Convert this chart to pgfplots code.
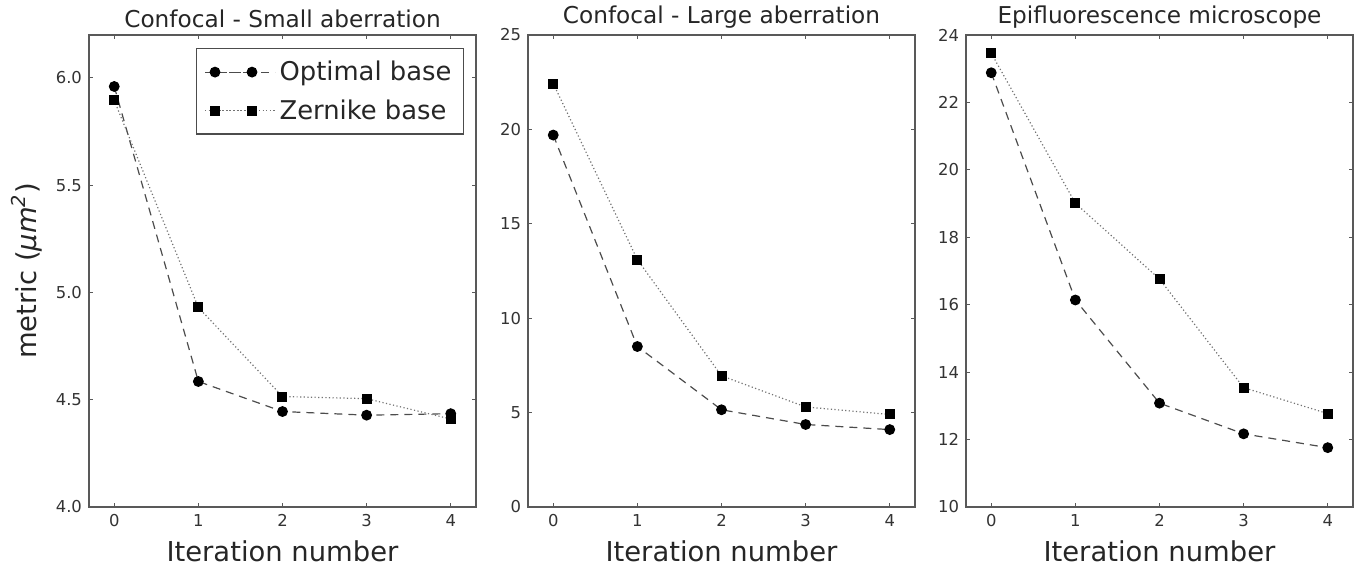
\documentclass[border=0pt]{standalone}
\usepackage{fontspec}
\setmainfont{DejaVu Sans}
\usepackage{pgfplots}
\pgfplotsset{compat=1.18}

\pgfplotsset{
  panel/.style={
    scale only axis, width=193.5pt, height=236pt,
    xmin=-0.3, xmax=4.3, xtick={0,1,2,3,4},
    tick align=inside, xtick pos=both, ytick pos=both,
    major tick length=2.2pt,
    axis line style={black!65, line width=0.8pt},
    every tick/.style={black!65, line width=0.5pt},
    tick label style={font=\fontsize{8.2}{9}\selectfont, text=black!80},
    /pgf/number format/assume math mode=true,
    title style={font=\fontsize{11.6}{12}\selectfont, text=black!85, yshift=-6pt},
    xlabel={Iteration number},
    xlabel style={font=\fontsize{13.7}{15}\selectfont, text=black!85},
    every axis plot/.append style={line width=0.6pt},
  },
  opt/.style={black!70, dash pattern=on 4pt off 3pt, mark=*,
    mark options={solid, fill=black, draw=black}, mark size=2.4pt},
  zer/.style={black!55, dash pattern=on 0.6pt off 1.2pt, mark=square*,
    mark options={solid, fill=black, draw=black}, mark size=2.2pt},
}

\begin{document}
\begin{tikzpicture}
\path[use as bounding box] (-44.5pt,-30pt) rectangle (637.5pt,253.5pt);

% panel 1
\begin{axis}[panel, at={(0pt,0pt)},
    title={Confocal - Small aberration},
    ymin=4.0, ymax=6.2, ytick={4.0,4.5,5.0,5.5,6.0},
    yticklabel style={/pgf/number format/.cd, fixed, fixed zerofill, precision=1},
    ylabel={metric (\textit{μm}\textsuperscript{\itshape 2})},
    ylabel style={font=\fontsize{13.7}{15}\selectfont, text=black!85},
    legend cell align=left,
    legend image code/.code={
      \path (-5pt,0pt) -- (30pt,0pt);
      \draw[mark repeat=2, mark phase=1, #1] plot coordinates {(0pt,0pt) (9.25pt,0pt) (18.5pt,0pt)};
    },
    legend style={at={(0.969,0.972)}, anchor=north east, draw=black!70,
      line width=0.6pt, font=\fontsize{12.9}{15}\selectfont, text=black!85,
      row sep=4pt, inner xsep=4pt, inner ysep=4pt},
  ]
\addplot[opt] coordinates {(0,5.96) (1,4.585) (2,4.445) (3,4.428) (4,4.435)};
\addlegendentry{Optimal base}
\addplot[zer] coordinates {(0,5.895) (1,4.93) (2,4.515) (3,4.505) (4,4.41)};
\addlegendentry{Zernike base}
\end{axis}

% panel 2
\begin{axis}[panel, at={(219.5pt,0pt)},
    title={Confocal - Large aberration},
    ymin=0, ymax=25, ytick={0,5,10,15,20,25},
  ]
\addplot[opt] coordinates {(0,19.7) (1,8.5) (2,5.15) (3,4.37) (4,4.1)};
\addplot[zer] coordinates {(0,22.43) (1,13.1) (2,6.95) (3,5.3) (4,4.9)};
\end{axis}

% panel 3
\begin{axis}[panel, at={(438.5pt,0pt)},
    title={Epifluorescence microscope},
    ymin=10, ymax=24, ytick={10,12,14,16,18,20,22,24},
  ]
\addplot[opt] coordinates {(0,22.88) (1,16.14) (2,13.08) (3,12.17) (4,11.76)};
\addplot[zer] coordinates {(0,23.46) (1,19.01) (2,16.76) (3,13.54) (4,12.77)};
\end{axis}
\end{tikzpicture}
\end{document}
